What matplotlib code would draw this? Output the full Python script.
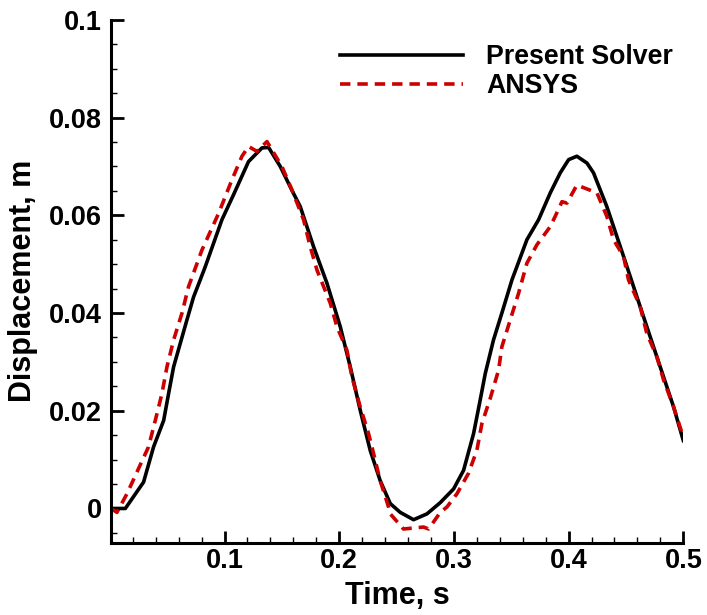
import matplotlib
matplotlib.use("Agg")
import matplotlib.pyplot as plt
from matplotlib.ticker import MultipleLocator, FixedLocator

# Present Solver (black solid)
t_solver = [0.001, 0.0135, 0.0294, 0.0381, 0.0469, 0.0512, 0.0556, 0.0614, 0.0672,
            0.073, 0.0788, 0.0832, 0.0977, 0.1078, 0.1209, 0.1326, 0.1384, 0.1486,
            0.1588, 0.166, 0.1776, 0.1893, 0.2009, 0.2096, 0.2183, 0.227, 0.2357,
            0.2445, 0.2532, 0.2648, 0.2765, 0.2881, 0.2997, 0.3084, 0.3171, 0.3229,
            0.3273, 0.3345, 0.3418, 0.3506, 0.3549, 0.3636, 0.3738, 0.384, 0.3927,
            0.4, 0.4072, 0.416, 0.4217, 0.4333, 0.4479, 0.4624, 0.477, 0.4915, 0.5]
d_solver = [0.0, 0.0, 0.0054, 0.0126, 0.018, 0.0235, 0.029, 0.0338, 0.0386,
            0.0433, 0.0468, 0.0495, 0.0591, 0.0642, 0.071, 0.0738, 0.0739, 0.070,
            0.0651, 0.0618, 0.0536, 0.0461, 0.0372, 0.029, 0.0201, 0.0119, 0.0057,
            0.001, -0.0008, -0.0023, -0.0011, 0.0012, 0.004, 0.0078, 0.0153, 0.0222,
            0.0276, 0.0345, 0.04, 0.0468, 0.0495, 0.055, 0.0591, 0.0646, 0.0687,
            0.0714, 0.0721, 0.0707, 0.0687, 0.0618, 0.0516, 0.0413, 0.031, 0.0208, 0.0139]

# ANSYS (red dashed)
t_ansys = [0.001, 0.0062, 0.0149, 0.0337, 0.0396, 0.0454, 0.0498, 0.0556, 0.0629,
           0.0686, 0.0803, 0.0948, 0.1065, 0.1152, 0.1209, 0.1282, 0.137, 0.15,
           0.1588, 0.1689, 0.1747, 0.1806, 0.1922, 0.198, 0.2067, 0.2111, 0.2183,
           0.2256, 0.23, 0.2357, 0.243, 0.2445, 0.256, 0.2648, 0.2735, 0.2779,
           0.2881, 0.2939, 0.3026, 0.3127, 0.32, 0.3244, 0.3316, 0.3389, 0.3418,
           0.3491, 0.3563, 0.3636, 0.3724, 0.384, 0.3883, 0.3942, 0.3985, 0.4072,
           0.416, 0.4247, 0.4333, 0.4392, 0.4479, 0.4522, 0.4624, 0.4682, 0.477,
           0.4828, 0.4915, 0.5]
d_ansys = [0.0, -0.0008, 0.003, 0.0126, 0.018, 0.0235, 0.029, 0.0345, 0.04,
           0.0454, 0.0529, 0.0604, 0.0673, 0.0721, 0.0741, 0.0731, 0.0751, 0.070,
           0.0652, 0.0591, 0.0536, 0.0488, 0.042, 0.0372, 0.0324, 0.0269, 0.0208,
           0.0153, 0.0112, 0.0057, 0.0003, -0.0011, -0.0042, -0.0040, -0.0038, -0.0042,
           -0.0008, 0.0003, 0.003, 0.0072, 0.0119, 0.0174, 0.0225, 0.0283, 0.0331,
           0.0386, 0.044, 0.0502, 0.054, 0.0577, 0.0598, 0.0628, 0.0625, 0.0662,
           0.0654, 0.0646, 0.0598, 0.055, 0.0516, 0.0468, 0.0413, 0.0358, 0.031,
           0.0263, 0.0208, 0.0146]

x_ticks = [0.1, 0.2, 0.3, 0.4, 0.5]
y_ticks = [0, 0.02, 0.04, 0.06, 0.08, 0.1]
y_ticklabels = ["0", "0.02", "0.04", "0.06", "0.08", "0.1"]

plt.rcParams["font.family"] = ["Liberation Sans", "DejaVu Sans"]
plt.rcParams["font.weight"] = "bold"
plt.rcParams["lines.scale_dashes"] = False

fig = plt.figure(figsize=(7.07, 6.15), dpi=100)
ax = fig.add_axes([0.157, 0.1176, 0.8095, 0.85])

ax.plot(t_solver, d_solver, color="black", lw=2.6, label="Present Solver")
ax.plot(t_ansys, d_ansys, color="#CC0000", lw=2.6, dashes=(7.5, 5), label="ANSYS")

ax.set_xlim(0.001, 0.5)
ax.set_ylim(-0.007, 0.1)

ax.xaxis.set_major_locator(FixedLocator(x_ticks))
ax.xaxis.set_minor_locator(MultipleLocator(0.02))
ax.set_yticks(y_ticks)
ax.set_yticklabels(y_ticklabels)
ax.yaxis.set_minor_locator(MultipleLocator(0.005))

for s in ["top", "right"]:
    ax.spines[s].set_visible(False)
for s in ["left", "bottom"]:
    ax.spines[s].set_linewidth(2.2)

ax.tick_params(which="major", direction="in", length=9, width=2, labelsize=19.5)
ax.tick_params(which="minor", direction="in", length=4.5, width=1)
ax.tick_params(axis="y", which="major", pad=6.5)
ax.tick_params(axis="x", which="major", pad=4)

ax.set_xlabel("Time, s", fontsize=22, fontweight="bold", labelpad=5)
ax.set_ylabel("Displacement, m", fontsize=22, fontweight="bold", labelpad=8)

ax.legend(loc="upper left", bbox_to_anchor=(0.40, 0.954), frameon=False,
          fontsize=19.3, handlelength=4.6, handletextpad=0.85, labelspacing=0.12,
          borderpad=0, borderaxespad=0)

fig.savefig("out.png", dpi=100)
